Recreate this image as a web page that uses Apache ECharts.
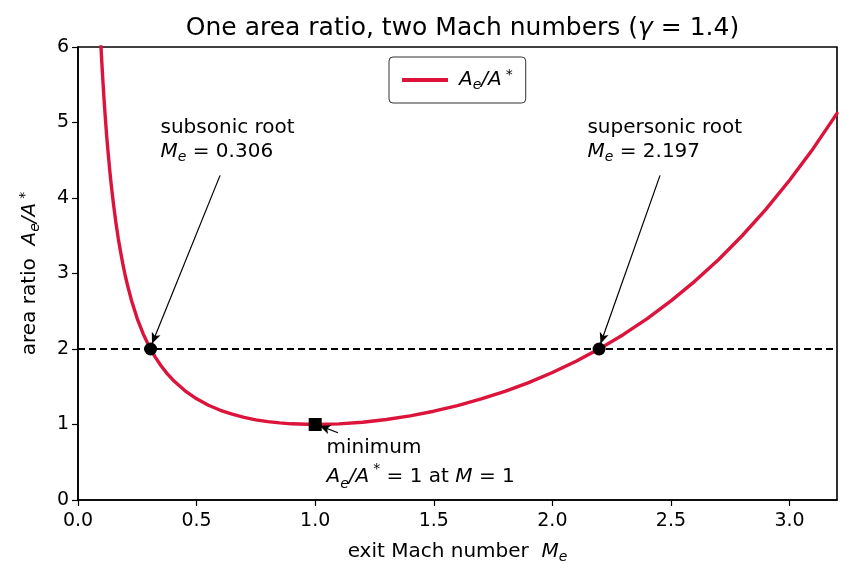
<!DOCTYPE html>
<html>
<head>
<meta charset="utf-8">
<script src="https://cdn.jsdelivr.net/npm/echarts@6/dist/echarts.min.js"></script>
<style>
  html, body { margin: 0; padding: 0; background: #fff; }
  #chart { width: 851px; height: 579px; }
</style>
</head>
<body>
<div id="chart"></div>
<script>
// ---- data ----
const machNumbers = [0.095, 0.1, 0.105, 0.11, 0.115, 0.12, 0.125, 0.13, 0.135, 0.14, 0.145, 0.15, 0.16, 0.17, 0.18, 0.19, 0.2, 0.21, 0.225, 0.24, 0.25, 0.26, 0.275, 0.3, 0.325, 0.35, 0.375, 0.4, 0.45, 0.5, 0.55, 0.6, 0.65, 0.7, 0.75, 0.8, 0.85, 0.9, 1.0, 1.1, 1.2, 1.3, 1.4, 1.5, 1.6, 1.7, 1.8, 1.9, 2.0, 2.1, 2.2, 2.3, 2.4, 2.5, 2.6, 2.7, 2.8, 2.9, 3.0, 3.1, 3.2];
const areaRatios  = [6.12, 5.82, 5.55, 5.30, 5.07, 4.86, 4.67, 4.50, 4.33, 4.18, 4.04, 3.91, 3.67, 3.46, 3.28, 3.11, 2.96, 2.83, 2.65, 2.50, 2.40, 2.32, 2.20, 2.035, 1.896, 1.778, 1.677, 1.590, 1.449, 1.340, 1.255, 1.188, 1.136, 1.094, 1.062, 1.038, 1.021, 1.009, 1.000, 1.008, 1.030, 1.066, 1.115, 1.176, 1.250, 1.338, 1.439, 1.555, 1.688, 1.837, 2.005, 2.193, 2.403, 2.637, 2.896, 3.183, 3.500, 3.850, 4.235, 4.657, 5.121];
const rootMach = [0.306, 2.197];
const rootRatio = [2, 2];
const minimumMach = [1.0];
const minimumRatio = [1.0];
const targetRatio = 2;
const noteTexts = [
  '{n|subsonic root}\n{i|M}{s|e}{n| = 0.306}',
  '{n|supersonic root}\n{i|M}{s|e}{n| = 2.197}',
  '{n|minimum}\n{i|A}{s|e}{i|/A}{u|*}{n| = 1 at }{i|M}{n| = 1}'
];
const noteX = [0.35, 2.15, 1.05];
const noteY = [4.44, 4.44, 0.11];
const arrowFromX = [0.599, 2.454, 1.096];
const arrowFromY = [4.30, 4.30, 0.89];
const arrowToX = [0.312, 2.203, 1.018];
const arrowToY = [2.07, 2.07, 0.985];

// ---- chart ----
const FONT = 'DejaVu Sans';
const baseRich = {
  n: { fontFamily: FONT, fontSize: 20, color: '#000' },
  i: { fontFamily: FONT, fontSize: 20, fontStyle: 'italic', color: '#000' },
  s: { fontFamily: FONT, fontSize: 14, fontStyle: 'italic', color: '#000', verticalAlign: 'bottom', lineHeight: 13 },
  u: { fontFamily: FONT, fontSize: 14, color: '#000', verticalAlign: 'top', lineHeight: 14, padding: [0, 0, 0, 4] }
};
function richWith(lh) {
  const r = {};
  for (const k in baseRich) {
    r[k] = Object.assign({}, baseRich[k]);
    if (k === 'n' || k === 'i') r[k].lineHeight = lh;
  }
  return r;
}

const curveData = machNumbers.map((m, i) => [m, areaRatios[i]]);
const rootData = rootMach.map((m, i) => [m, rootRatio[i]]);
const minData = minimumMach.map((m, i) => [m, minimumRatio[i]]);
const noteData = noteTexts.map((t, i) => ({
  value: [noteX[i], noteY[i]],
  label: { formatter: t, rich: richWith(i === 2 ? 29 : 24) }
}));
const arrowData = arrowFromX.map((x, i) => [
  { coord: [x, arrowFromY[i]] },
  { coord: [arrowToX[i], arrowToY[i]] }
]);

const chart = echarts.init(document.getElementById('chart'), null, { renderer: 'canvas' });
chart.setOption({
  animation: false,
  backgroundColor: '#fff',
  title: {
    text: '{n|One area ratio, two Mach numbers (}{i|γ}{n| = 1.4)}',
    left: 457.5,
    top: 11,
    textAlign: 'center',
    textStyle: {
      fontWeight: 'normal',
      rich: {
        n: { fontFamily: FONT, fontSize: 25, fontWeight: 'normal', color: '#000' },
        i: { fontFamily: FONT, fontSize: 25, fontWeight: 'normal', fontStyle: 'italic', color: '#000' }
      }
    }
  },
  legend: {
    data: ['ratio'],
    left: 389,
    top: 57,
    padding: [11, 13],
    itemWidth: 46,
    itemHeight: 4,
    itemGap: 0,
    icon: 'rect',
    borderColor: '#333',
    borderWidth: 1,
    borderRadius: 4,
    backgroundColor: '#fff',
    formatter: () => '{i|A}{s|e}{i|/A}{u|*}',
    textStyle: { padding: [0, 0, 0, 6], rich: richWith(24) }
  },
  grid: {
    left: 78, right: 14, top: 47, bottom: 79,
    show: true, borderColor: '#000', borderWidth: 1.6, backgroundColor: 'transparent'
  },
  xAxis: {
    type: 'value',
    min: 0, max: 3.2, interval: 0.5,
    name: '{n|exit Mach number  }{i|M}{s|e}',
    nameLocation: 'middle',
    nameGap: 40,
    nameTextStyle: { rich: richWith(24) },
    axisLine: { show: true, onZero: false, lineStyle: { color: '#000', width: 1.6 } },
    axisTick: { show: true, length: 6, lineStyle: { color: '#000', width: 1.2 } },
    axisLabel: {
      color: '#000', fontFamily: FONT, fontSize: 19, margin: 12,
      showMaxLabel: false,
      formatter: v => v.toFixed(1)
    },
    splitLine: { show: false }
  },
  yAxis: {
    type: 'value',
    min: 0, max: 6, interval: 1,
    name: '{n|area ratio  }{i|A}{s|e}{i|/A}{u|*}',
    nameLocation: 'middle',
    nameRotate: 90,
    nameGap: 36,
    nameTextStyle: { rich: richWith(24) },
    axisLine: { show: true, onZero: false, lineStyle: { color: '#000', width: 1.6 } },
    axisTick: { show: true, length: 6, lineStyle: { color: '#000', width: 1.2 } },
    axisLabel: { color: '#000', fontFamily: FONT, fontSize: 19, margin: 9 },
    splitLine: { show: false }
  },
  series: [
    {
      name: 'ratio',
      type: 'line',
      data: curveData,
      showSymbol: false,
      smooth: false,
      clip: true,
      lineStyle: { color: '#dc143c', width: 3.4, cap: 'round', join: 'round' },
      itemStyle: { color: '#dc143c' },
      z: 3
    },
    {
      name: 'roots',
      type: 'scatter',
      data: rootData,
      symbol: 'circle',
      symbolSize: 13,
      itemStyle: { color: '#000', opacity: 1 },
      z: 5,
      markLine: {
        silent: true,
        symbol: ['none', 'none'],
        label: { show: false },
        lineStyle: { color: '#000', width: 2, type: [7, 4], opacity: 1 },
        data: [{ yAxis: targetRatio }],
        z: 4
      }
    },
    {
      name: 'minimum',
      type: 'scatter',
      data: minData,
      symbol: 'rect',
      symbolSize: 13,
      itemStyle: { color: '#000', opacity: 1 },
      z: 5
    },
    {
      name: 'notes',
      type: 'scatter',
      data: noteData,
      symbolSize: 1,
      itemStyle: { color: '#fff', opacity: 1 },
      label: { show: true, position: [0, 0], align: 'left', verticalAlign: 'bottom', color: '#000', opacity: 1 },
      z: 6,
      markLine: {
        silent: true,
        symbol: ['none', 'arrow'],
        symbolSize: [7, 11],
        label: { show: false },
        lineStyle: { color: '#000', width: 1.2, type: 'solid', opacity: 1 },
        itemStyle: { color: '#000', opacity: 1 },
        data: arrowData,
        z: 6
      }
    }
  ]
});
</script>
</body>
</html>
